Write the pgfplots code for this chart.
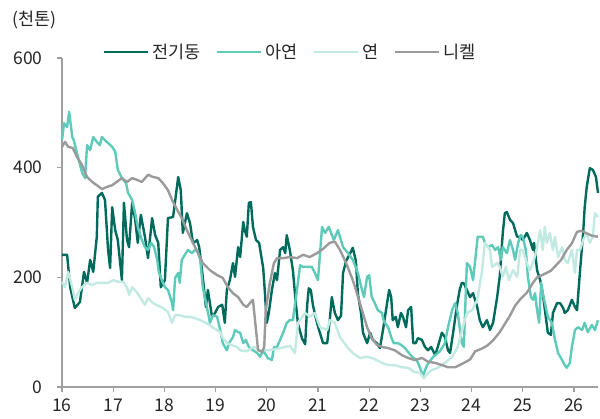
\documentclass[border=0pt]{standalone}
\usepackage{pgfplots}
\pgfplotsset{compat=1.18}
\usepackage{fontspec}
\setmainfont{Noto Sans CJK KR}
\definecolor{cu}{HTML}{006B5D}
\definecolor{zn}{HTML}{5ECAB9}
\definecolor{pb}{HTML}{C2EAE3}
\definecolor{ni}{HTML}{9A9A9A}
\definecolor{axgray}{HTML}{A0A0A0}
\definecolor{txt}{HTML}{262626}
\begin{document}
\begin{tikzpicture}
\path[use as bounding box] (-62pt,-31pt) rectangle (538pt,387pt);
\begin{axis}[
  scale only axis, width=536pt, height=329pt,
  at={(0,0)}, anchor=south west,
  xmin=16, xmax=26.47, ymin=0, ymax=600,
  axis x line*=bottom, axis y line*=left,
  x axis line style={-, axgray, line width=1.4pt},
  y axis line style={-, axgray, line width=1.4pt},
  xtick={16,17,18,19,20,21,22,23,24,25,26},
  ytick={0,200,400,600},
  tick align=outside, major tick length=5pt,
  tick style={axgray, line width=1.2pt},
  font=\fontsize{17.5}{20}\selectfont,
  /pgf/number format/assume math mode=true,
  ticklabel style={text=txt},
  xticklabel style={yshift=-3pt},
  yticklabel style={xshift=-11pt},
  clip=false,
  legend columns=4,
  legend style={draw=none, fill=none, at={(0.076,1.018)}, anchor=west,
    inner xsep=0pt, inner ysep=0pt,
    nodes={inner xsep=3.2pt, inner ysep=1pt, text=txt},
    /tikz/every even column/.append style={column sep=12pt}},
  legend image code/.code={\draw[#1] (0pt,0pt) -- (44pt,0pt);},
  every axis plot/.append style={line width=2.4pt, line join=round},
]
\addplot[cu] coordinates {
(16.00,241)(16.10,241)(16.16,182)(16.25,144)(16.35,155)(16.43,210)(16.49,190)(16.55,232)(16.61,210)(16.68,274)(16.70,347)(16.78,354)(16.84,341)(16.90,250)(16.94,217)(16.98,328)(17.04,286)(17.09,268)(17.17,195)(17.21,336)(17.27,268)(17.31,255)(17.37,336)(17.43,305)(17.48,263)(17.54,314)(17.62,274)(17.68,235)(17.76,308)(17.82,277)(17.88,263)(17.93,182)(18.01,195)(18.07,308)(18.17,310)(18.27,383)(18.32,359)(18.36,281)(18.44,317)(18.50,299)(18.56,262)(18.64,268)(18.68,255)(18.75,201)(18.81,146)(18.85,177)(18.93,128)(18.99,135)(19.05,146)(19.13,150)(19.18,117)(19.22,177)(19.28,195)(19.34,226)(19.38,201)(19.44,255)(19.48,237)(19.54,301)(19.57,286)(19.61,274)(19.65,336)(19.69,337)(19.73,292)(19.79,268)(19.85,263)(19.93,217)(19.96,177)(20.00,117)(20.04,135)(20.10,177)(20.16,208)(20.20,195)(20.26,250)(20.32,255)(20.36,244)(20.39,277)(20.45,250)(20.51,213)(20.57,150)(20.61,115)(20.69,88)(20.75,78)(20.79,150)(20.82,180)(20.86,177)(20.90,150)(20.96,125)(21.02,104)(21.10,80)(21.18,80)(21.23,122)(21.27,164)(21.33,135)(21.39,122)(21.45,130)(21.49,208)(21.55,230)(21.59,237)(21.64,246)(21.68,254)(21.74,230)(21.78,170)(21.84,135)(21.88,99)(21.96,80)(22.02,99)(22.07,86)(22.15,80)(22.21,71)(22.27,104)(22.35,153)(22.39,177)(22.43,164)(22.46,122)(22.52,128)(22.56,109)(22.62,135)(22.66,128)(22.72,109)(22.76,140)(22.82,146)(22.86,80)(22.91,80)(22.95,89)(23.03,86)(23.09,73)(23.15,67)(23.21,73)(23.29,58)(23.34,73)(23.42,99)(23.48,91)(23.54,67)(23.58,62)(23.64,99)(23.71,146)(23.77,178)(23.81,190)(23.85,189)(23.91,177)(23.97,164)(24.03,171)(24.11,146)(24.16,122)(24.22,109)(24.30,122)(24.36,104)(24.42,117)(24.50,164)(24.55,201)(24.61,281)(24.65,317)(24.69,319)(24.75,305)(24.81,299)(24.89,274)(24.95,274)(25.00,268)(25.08,281)(25.14,268)(25.20,250)(25.22,263)(25.28,213)(25.34,195)(25.39,171)(25.45,128)(25.49,99)(25.55,95)(25.59,135)(25.67,153)(25.73,153)(25.79,144)(25.82,135)(25.88,140)(25.96,159)(26.02,146)(26.06,140)(26.12,213)(26.18,281)(26.21,328)(26.25,365)(26.31,399)(26.37,396)(26.43,383)(26.47,354)
};
\addlegendentry{전기동}
\addplot[zn] coordinates {
(16.00,450)(16.04,481)(16.10,474)(16.14,502)(16.20,456)(16.23,450)(16.31,420)(16.39,392)(16.45,381)(16.49,441)(16.55,432)(16.61,456)(16.68,447)(16.74,441)(16.78,456)(16.84,450)(16.90,445)(16.98,438)(17.04,429)(17.09,396)(17.17,381)(17.25,372)(17.29,354)(17.37,341)(17.43,317)(17.48,292)(17.56,268)(17.62,255)(17.68,250)(17.74,263)(17.80,255)(17.86,232)(17.89,210)(17.95,195)(18.01,182)(18.07,177)(18.15,153)(18.17,140)(18.21,199)(18.27,208)(18.30,190)(18.34,232)(18.42,244)(18.46,250)(18.54,244)(18.60,250)(18.64,250)(18.70,232)(18.75,182)(18.83,146)(18.89,117)(18.95,131)(19.03,128)(19.09,104)(19.14,80)(19.22,67)(19.26,80)(19.34,91)(19.38,104)(19.44,100)(19.48,99)(19.54,80)(19.59,86)(19.65,73)(19.73,67)(19.81,62)(19.87,55)(19.93,67)(19.96,62)(20.02,53)(20.10,49)(20.14,73)(20.20,73)(20.26,86)(20.32,99)(20.39,117)(20.45,122)(20.51,122)(20.59,177)(20.65,222)(20.71,219)(20.80,219)(20.88,219)(20.94,208)(21.00,195)(21.08,292)(21.14,281)(21.21,292)(21.31,268)(21.39,286)(21.49,255)(21.59,244)(21.68,232)(21.78,208)(21.86,177)(21.90,164)(21.96,201)(22.00,204)(22.05,164)(22.11,153)(22.17,140)(22.25,135)(22.29,119)(22.37,109)(22.43,91)(22.48,80)(22.56,80)(22.62,77)(22.70,71)(22.76,64)(22.84,55)(22.93,49)(22.99,36)(23.05,20)(23.13,40)(23.25,55)(23.38,65)(23.48,80)(23.54,109)(23.62,140)(23.68,153)(23.73,135)(23.81,80)(23.85,73)(23.89,180)(23.91,226)(23.97,219)(24.03,195)(24.12,274)(24.22,274)(24.26,263)(24.32,255)(24.40,259)(24.46,250)(24.52,255)(24.57,232)(24.61,255)(24.69,244)(24.75,268)(24.81,250)(24.85,232)(24.91,263)(24.96,277)(25.00,274)(25.06,250)(25.10,201)(25.16,164)(25.20,159)(25.24,171)(25.28,140)(25.32,117)(25.36,190)(25.39,171)(25.45,146)(25.49,128)(25.57,117)(25.63,86)(25.69,62)(25.77,49)(25.82,40)(25.86,35)(25.92,44)(25.96,73)(26.02,104)(26.08,109)(26.16,104)(26.21,117)(26.27,100)(26.35,113)(26.41,104)(26.47,122)
};
\addlegendentry{아연}
\addplot[pb] coordinates {
(16.00,192)(16.06,182)(16.12,210)(16.20,182)(16.25,159)(16.31,171)(16.39,182)(16.49,190)(16.59,186)(16.68,190)(16.78,190)(16.90,190)(17.00,195)(17.09,192)(17.19,192)(17.27,182)(17.31,168)(17.37,182)(17.46,173)(17.54,162)(17.62,150)(17.68,162)(17.78,153)(17.88,148)(17.97,144)(18.07,137)(18.15,117)(18.21,131)(18.30,131)(18.40,128)(18.50,128)(18.58,126)(18.70,122)(18.89,113)(18.95,108)(19.03,104)(19.09,100)(19.13,91)(19.22,80)(19.42,73)(19.48,67)(19.61,65)(19.73,73)(19.87,67)(20.06,67)(20.26,71)(20.45,75)(20.55,62)(20.61,117)(20.75,135)(20.84,128)(20.94,135)(21.04,109)(21.18,104)(21.23,122)(21.33,117)(21.43,91)(21.57,73)(21.68,62)(21.82,53)(21.96,55)(22.05,53)(22.15,49)(22.25,44)(22.37,40)(22.50,40)(22.64,36)(22.76,35)(22.89,27)(22.99,26)(23.07,16)(23.15,26)(23.23,31)(23.34,35)(23.48,44)(23.62,55)(23.73,73)(23.83,109)(23.91,135)(24.01,140)(24.11,159)(24.20,208)(24.26,263)(24.36,250)(24.40,219)(24.50,226)(24.55,219)(24.61,201)(24.67,219)(24.73,195)(24.81,213)(24.89,201)(24.95,250)(25.00,250)(25.08,226)(25.14,213)(25.22,232)(25.28,255)(25.34,286)(25.39,250)(25.43,292)(25.47,263)(25.53,281)(25.59,250)(25.63,274)(25.69,237)(25.77,255)(25.82,232)(25.88,226)(25.96,250)(26.02,208)(26.06,250)(26.12,250)(26.18,268)(26.25,281)(26.31,263)(26.37,274)(26.41,317)(26.47,310)
};
\addlegendentry{연}
\addplot[ni] coordinates {
(16.00,438)(16.06,447)(16.12,438)(16.21,436)(16.29,420)(16.39,405)(16.49,383)(16.59,374)(16.68,368)(16.78,361)(16.88,365)(16.98,368)(17.07,374)(17.17,381)(17.27,374)(17.37,381)(17.46,378)(17.56,374)(17.68,387)(17.78,383)(17.88,381)(17.97,372)(18.07,359)(18.15,341)(18.25,323)(18.34,308)(18.44,286)(18.50,274)(18.60,255)(18.75,226)(18.89,213)(19.03,204)(19.14,199)(19.24,182)(19.34,171)(19.44,164)(19.54,150)(19.61,146)(19.67,153)(19.73,159)(19.77,122)(19.83,67)(19.91,64)(19.95,73)(19.98,140)(20.06,190)(20.14,226)(20.20,235)(20.32,235)(20.45,237)(20.59,235)(20.71,241)(20.84,237)(20.98,244)(21.10,252)(21.23,263)(21.33,265)(21.43,250)(21.55,226)(21.68,195)(21.80,159)(21.86,140)(21.96,109)(22.05,89)(22.15,77)(22.25,73)(22.37,71)(22.50,67)(22.64,58)(22.76,53)(22.89,49)(23.03,53)(23.15,46)(23.29,44)(23.42,40)(23.54,36)(23.68,36)(23.81,42)(23.97,50)(24.07,65)(24.20,70)(24.30,75)(24.42,85)(24.55,100)(24.65,115)(24.75,130)(24.85,148)(24.95,160)(25.08,172)(25.20,190)(25.28,200)(25.40,205)(25.55,212)(25.65,222)(25.75,232)(25.86,250)(25.96,262)(26.06,283)(26.15,285)(26.23,281)(26.35,276)(26.47,274)
};
\addlegendentry{니켈}
\node[anchor=west, text=txt, inner sep=0pt, font=\fontsize{17.5}{20}\selectfont] at (rel axis cs:-0.093,1.1155) {(천톤)};
\end{axis}
\end{tikzpicture}
\end{document}
